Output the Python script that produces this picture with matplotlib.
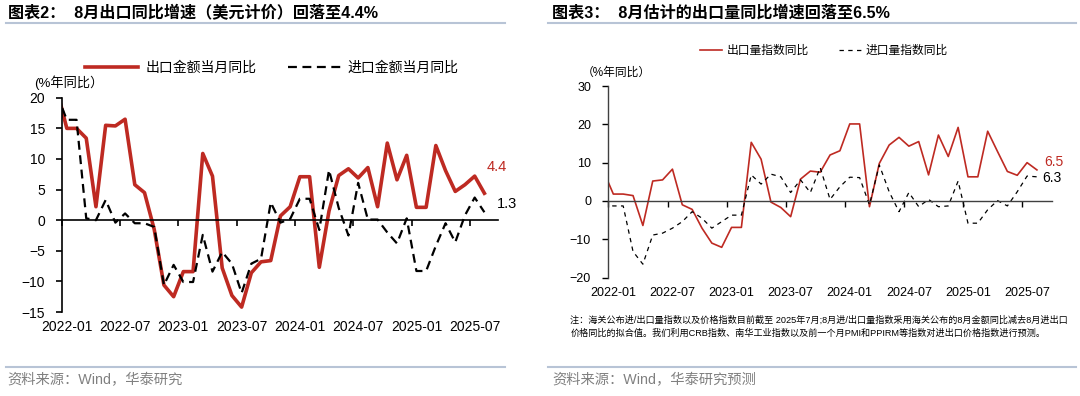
import numpy as np
import pandas as pd
import matplotlib
matplotlib.use('Agg')
from matplotlib import pyplot as plt
from matplotlib.lines import Line2D

plt.rcParams['font.family'] = ['Liberation Sans', 'Noto Sans CJK SC']

# monthly, 2021-12 .. 2025-08 (first month only feeds the clipped segment at the axis)
months = pd.period_range('2021-12', '2025-08', freq='M').strftime('%Y-%m').tolist()
tick_labels = ['2022-01', '2022-07', '2023-01', '2023-07',
               '2024-01', '2024-07', '2025-01', '2025-07']

# chart 2: value yoy (USD)
export_value_yoy = [21.2, 15.0, 15.0, 13.4, 2.2, 15.5, 15.4, 16.5, 5.8, 4.5,
                    -1.5, -10.6, -12.5, -8.4, -8.4, 10.9, 7.2, -7.8, -12.3, -14.2,
                    -8.6, -6.8, -6.6, 0.7, 2.2, 7.1, 7.1, -7.7, 1.5, 7.3,
                    8.4, 6.9, 8.6, 2.2, 12.6, 6.6, 10.6, 2.1, 2.1, 12.2,
                    8.1, 4.7, 5.8, 7.2, 4.4]
import_value_yoy = [20.5, 16.4, 16.4, 0.3, 0.0, 3.3, -0.4, 1.1, -0.5, -0.5,
                    -1.1, -10.6, -7.3, -10.1, -10.1, -2.4, -8.4, -5.2, -7.1, -11.9,
                    -7.1, -6.3, 2.9, -0.4, 0.2, 3.5, 3.5, -1.6, 8.2, 2.0,
                    -2.5, 6.1, 0.1, 0.1, -2.0, -3.8, 0.3, -8.3, -8.3, -4.2,
                    -0.5, -3.6, 0.8, 3.7, 1.3]

# chart 3: volume index yoy
export_volume_yoy = [7.8, 1.8, 1.8, 1.4, -6.4, 5.2, 5.5, 8.3, -1.0, -2.2,
                     -7.1, -11.0, -12.1, -6.9, -6.9, 15.3, 10.9, -0.3, -1.7, -4.1,
                     5.7, 7.8, 7.5, 12.0, 13.1, 20.1, 20.1, -1.5, 9.8, 14.6,
                     16.6, 14.3, 15.5, 6.8, 17.2, 11.6, 19.2, 6.3, 6.3, 18.2,
                     12.9, 7.7, 6.7, 10.0, 8.1]
import_volume_yoy = [-1.1, -1.3, -1.3, -13.2, -16.5, -8.9, -8.4, -7.1, -5.4, -2.8,
                     -4.5, -7.1, -5.4, -3.7, -3.7, 6.8, 4.4, 7.0, 6.3, 2.2,
                     5.5, 2.2, 8.7, 0.4, 3.7, 6.2, 6.1, -1.0, 9.4, 2.4,
                     -2.8, 2.2, -1.5, 0.4, -1.5, -1.3, 5.2, -5.8, -5.8, -2.3,
                     0.1, -1.3, 2.4, 6.5, 6.3]

RED = '#BE2A22'
SEP = '#B8C4D6'
x = np.arange(len(months))
tick_pos = [months.index(t) for t in tick_labels]

fig = plt.figure(figsize=(10.8, 3.96), dpi=100)


def style_axis(ax, fs, lw):
    ax.spines[['top', 'right']].set_visible(False)
    ax.spines['bottom'].set_position(('data', 0))
    ax.spines['left'].set_linewidth(lw)
    ax.spines['bottom'].set_linewidth(lw)
    ax.set_xticks([p - 0.5 for p in tick_pos])
    ax.tick_params(axis='x', labelbottom=False, length=4, width=lw, direction='out')
    ax.tick_params(axis='y', length=4, width=lw, pad=8, labelsize=fs)
    for p, t in zip(tick_pos, tick_labels):
        ax.annotate(t, xy=(p, 0), xycoords=('data', 'axes fraction'),
                    xytext=(0, -11), textcoords='offset points',
                    ha='center', va='center', fontsize=fs)


# ---- left: chart 2
ax1 = fig.add_axes([0.0571, 0.2121, 0.404, 0.541])
ax1.plot(x, export_value_yoy, color=RED, lw=2.6, label='出口金额当月同比')
ax1.plot(x, import_value_yoy, color='black', lw=1.6, ls=(0, (4, 2.5)),
         label='进口金额当月同比')
ax1.set_xlim(0.47, 45.4)
ax1.set_ylim(-15, 20)
ax1.set_yticks(range(-15, 21, 5))
style_axis(ax1, 10, 1.2)
ax1.annotate(f'{export_value_yoy[-1]:.1f}', xy=(x[-1], export_value_yoy[-1]),
             xytext=(9, 19), textcoords='offset points', ha='center', va='center',
             color=RED, fontsize=10.5)
ax1.annotate(f'{import_value_yoy[-1]:.1f}', xy=(x[-1], import_value_yoy[-1]),
             xytext=(16, 6), textcoords='offset points', ha='center', va='center',
             color='black', fontsize=10.5)
ax1.legend(loc='center', bbox_to_anchor=(0.252, 0.828), bbox_transform=fig.transFigure,
           ncol=2, frameon=False, handlelength=3.8, columnspacing=2.3,
           handletextpad=0.5, fontsize=10)
fig.text(0.032, 0.790, '(%年同比）', fontsize=9.5, va='center')

# ---- right: chart 3
ax2 = fig.add_axes([0.5627, 0.299, 0.4111, 0.4838])
ax2.plot(x, export_volume_yoy, color=RED, lw=1.2, label='出口量指数同比')
ax2.plot(x, import_volume_yoy, color='black', lw=0.9, ls=(0, (3.5, 3.5)),
         label='进口量指数同比')
ax2.set_xlim(0.43, 45.5)
ax2.set_ylim(-20, 30)
ax2.set_yticks(range(-20, 31, 10))
style_axis(ax2, 9, 1.0)
for sp in ['left', 'bottom']:
    ax2.spines[sp].set_color('#404040')
ax2.annotate('6.5', xy=(x[-1], export_volume_yoy[-1]),
             xytext=(12, 6), textcoords='offset points', ha='center', va='center',
             color=RED, fontsize=10)
ax2.annotate(f'{import_volume_yoy[-1]:.1f}', xy=(x[-1], import_volume_yoy[-1]),
             xytext=(11, -1), textcoords='offset points', ha='center', va='center',
             color='black', fontsize=10)
ax2.legend(loc='center', bbox_to_anchor=(0.763, 0.871), bbox_transform=fig.transFigure,
           ncol=2, frameon=False, handlelength=1.8, columnspacing=2.6,
           handletextpad=0.4, fontsize=8.5)
fig.text(0.539, 0.816, '（%年同比）', fontsize=8.5, va='center')

note1 = '注：海关公布进/出口量指数以及价格指数目前截至 2025年7月;8月进/出口量指数采用海关公布的8月金额同比减去8月进出口'
note2 = '价格同比的拟合值。我们利用CRB指数、南华工业指数以及前一个月PMI和PPIRM等指数对进出口价格指数进行预测。'
fig.text(0.528, 0.192, note1, fontsize=6.55, va='center')
fig.text(0.528, 0.159, note2, fontsize=6.55, va='center')

# ---- titles, separators, sources
fig.text(0.0074, 0.967, '图表2：  8月出口同比增速（美元计价）回落至4.4%',
         fontsize=11.6, fontweight='bold', va='center')
fig.text(0.511, 0.967, '图表3：  8月估计的出口量同比增速回落至6.5%',
         fontsize=11.6, fontweight='bold', va='center')
for x0, x1 in [(0.006, 0.468), (0.507, 0.996)]:
    for yy in [0.9407, 0.0732]:
        fig.add_artist(Line2D([x0, x1], [yy, yy], color=SEP, lw=1.5,
                              transform=fig.transFigure))
fig.text(0.007, 0.040, '资料来源：Wind，华泰研究', color='#808080', fontsize=10.3, va='center')
fig.text(0.511, 0.040, '资料来源：Wind，华泰研究预测', color='#808080', fontsize=10.3, va='center')

fig.savefig('out.png', dpi=100)
